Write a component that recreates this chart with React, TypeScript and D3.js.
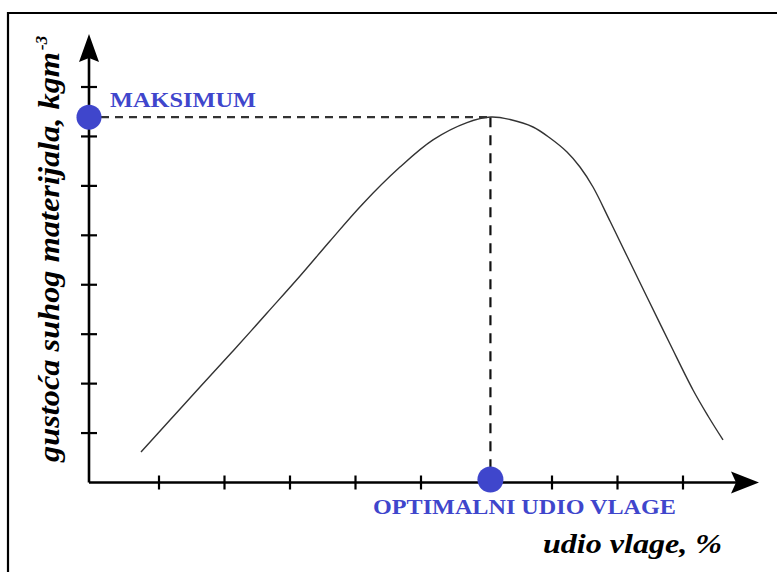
import React from "react";
import * as d3 from "d3";

// Curve: moisture (tick units) vs dry density (tick units)
const curveX = [0.725, 1.168, 1.626, 2.13, 2.649, 3.153, 3.611, 4.099, 4.679, 5.183, 5.702, 6.069, 6.359, 6.71, 6.969, 7.229, 7.427, 7.626, 7.885, 8.145, 8.45, 8.802, 9.153, 9.382, 9.611];
const curveY = [0.617, 1.264, 1.932, 2.66, 3.428, 4.177, 4.885, 5.62, 6.38, 6.93, 7.28, 7.393, 7.342, 7.191, 6.968, 6.685, 6.382, 5.977, 5.289, 4.581, 3.752, 2.801, 1.871, 1.345, 0.86];
const xTicks = [1, 2, 3, 4, 5, 6, 7, 8, 9];
const yTicks = [1, 2, 3, 4, 5, 6, 7, 8];
const optimum = { x: 6.06, y: 7.39 };
const labels = {
  max: "MAKSIMUM",
  opt: "OPTIMALNI UDIO VLAGE",
  xTitle: "udio vlage, %",
  yTitle: "gustoća suhog materijala, kgm",
  ySup: "-3",
};

const W = 777;
const H = 572;
const BLUE = "#3f46cc";
const SERIF = "'Liberation Serif', 'Times New Roman', serif";

export default function App() {
  const x = d3.scaleLinear().domain([1, 9]).range([159, 683]);
  const y = d3.scaleLinear().domain([0, 8]).range([482.5, 87]);
  const ox = 89;
  const oy = y(0);

  const pts: [number, number][] = curveX.map((v, i) => [v, curveY[i]]);
  const line = d3
    .line<[number, number]>()
    .x((d) => x(d[0]))
    .y((d) => y(d[1]))
    .curve(d3.curveCatmullRom.alpha(0.5));

  const px = x(optimum.x);
  const py = y(optimum.y);

  return (
    <svg
      width={W}
      height={H}
      style={{ position: "fixed", left: 0, top: 0, background: "#fff" }}
    >
      <rect x={0} y={0} width={W} height={H} fill="#fff" />
      {/* frame */}
      <path d={`M8,${H} L8,13 L${W},13`} fill="none" stroke="#000" strokeWidth={2.2} />

      {/* dashed guides */}
      <line x1={ox + 12} y1={py} x2={px} y2={py} stroke="#333" strokeWidth={2.2} strokeDasharray="8,6" />
      <line x1={px} y1={py} x2={px} y2={oy - 14} stroke="#111" strokeWidth={2.2} strokeDasharray="10,8" />

      {/* axes */}
      <line x1={ox} y1={oy} x2={740} y2={oy} stroke="#000" strokeWidth={2.6} />
      <line x1={ox} y1={oy} x2={ox} y2={50} stroke="#000" strokeWidth={2.6} />
      <path d={`M759,${oy} L731,${oy - 11} L736,${oy} L731,${oy + 11} Z`} fill="#000" />
      <path d={`M${ox},34 L${ox - 10},62 L${ox},58 L${ox + 10},62 Z`} fill="#000" />

      {xTicks.map((t) => (
        <line key={"xt" + t} x1={x(t)} x2={x(t)} y1={oy - 7} y2={oy + 7} stroke="#000" strokeWidth={2.2} />
      ))}
      {yTicks.map((t) => (
        <line key={"yt" + t} x1={ox - 8} x2={ox + 8} y1={y(t)} y2={y(t)} stroke="#000" strokeWidth={2.2} />
      ))}

      {/* curve */}
      <path d={line(pts) || ""} fill="none" stroke="#333" strokeWidth={1.4} />

      {/* dots */}
      <circle cx={ox} cy={py} r={12.5} fill={BLUE} />
      <circle cx={px} cy={oy - 3} r={13} fill={BLUE} />

      {/* labels */}
      <text x={110} y={107} fill={BLUE} fontFamily={SERIF} fontWeight="bold" fontSize={22} textLength={146} lengthAdjust="spacingAndGlyphs">
        {labels.max}
      </text>
      <text x={373} y={514} fill={BLUE} fontFamily={SERIF} fontWeight="bold" fontSize={22} textLength={303} lengthAdjust="spacingAndGlyphs">
        {labels.opt}
      </text>
      <text x={543} y={553} fill="#000" fontFamily={SERIF} fontWeight="bold" fontStyle="italic" fontSize={28} textLength={179} lengthAdjust="spacingAndGlyphs">
        {labels.xTitle}
      </text>
      <g transform="translate(59,462) rotate(-90)">
        <text x={0} y={0} fill="#000" fontFamily={SERIF} fontWeight="bold" fontStyle="italic" fontSize={29} textLength={410} lengthAdjust="spacingAndGlyphs">
          {labels.yTitle}
        </text>
        <text x={412} y={-12} fill="#000" fontFamily={SERIF} fontWeight="bold" fontStyle="italic" fontSize={17}>
          {labels.ySup}
        </text>
      </g>
    </svg>
  );
}
